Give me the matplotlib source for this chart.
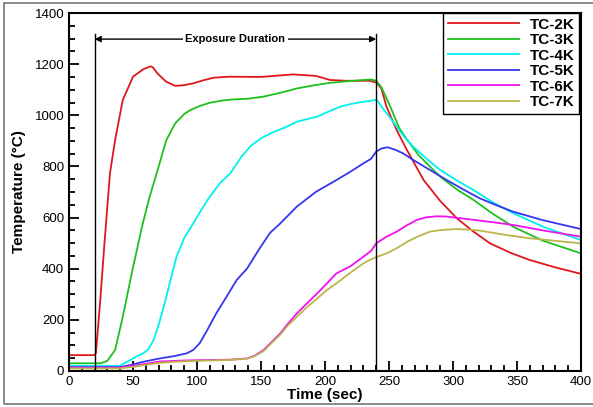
import matplotlib.pyplot as plt
from matplotlib.patches import Rectangle
from matplotlib.ticker import MultipleLocator

plt.rcParams['font.family'] = ['Liberation Sans', 'DejaVu Sans']

# thermocouple readings
t_2k = [0, 20, 21, 24, 28, 32, 36, 42, 50, 58, 64, 66, 69, 76, 83, 90, 97, 105, 113, 125,
        150, 175, 193, 204, 217, 235, 240, 244, 248, 256, 264, 277, 290, 303, 316, 329,
        345, 360, 380, 400]
T_2k = [62, 62, 70, 251, 520, 774, 903, 1060, 1151, 1180, 1192, 1185, 1164, 1131, 1115,
        1118, 1125, 1137, 1147, 1151, 1150, 1160, 1154, 1138, 1135, 1135, 1128, 1105, 1034,
        942, 864, 747, 665, 597, 545, 499, 462, 434, 405, 380]

t_3k = [0, 25, 30, 36, 42, 49, 57, 63, 70, 76, 83, 90, 95, 103, 110, 120, 128, 140, 152,
        165, 178, 191, 204, 217, 230, 236, 240, 244, 251, 258, 264, 273, 282, 290, 303,
        316, 331, 347, 370, 400]
T_3k = [30, 30, 40, 82, 212, 382, 564, 682, 799, 903, 969, 1005, 1021, 1038, 1049, 1058,
        1062, 1065, 1073, 1088, 1105, 1117, 1127, 1133, 1138, 1140, 1135, 1110, 1034, 950,
        905, 845, 799, 760, 710, 669, 615, 564, 510, 460]

t_4k = [0, 40, 45, 48, 53, 58, 62, 66, 70, 74, 79, 84, 90, 97, 104, 110, 118, 126, 135,
        142, 150, 160, 170, 178, 186, 194, 203, 212, 221, 230, 240, 242, 246, 251, 256,
        262, 269, 276, 282, 290, 303, 316, 331, 347, 370, 400]
T_4k = [20, 20, 35, 43, 58, 69, 85, 121, 180, 251, 350, 447, 520, 577, 635, 682, 735, 773,
        840, 880, 910, 935, 955, 975, 985, 995, 1015, 1034, 1045, 1053, 1060, 1050, 1021,
        990, 955, 915, 877, 845, 819, 786, 745, 708, 660, 617, 565, 512]

t_5k = [0, 40, 47, 53, 60, 71, 82, 92, 97, 102, 108, 115, 123, 131, 139, 149, 157, 165,
        178, 193, 209, 220, 230, 236, 240, 244, 249, 255, 261, 269, 282, 295, 308, 321,
        334, 347, 370, 400]
T_5k = [15, 15, 22, 30, 38, 49, 58, 69, 82, 108, 160, 225, 290, 356, 400, 480, 540, 577,
        643, 701, 747, 780, 812, 830, 858, 870, 875, 865, 851, 825, 786, 747, 710, 675,
        648, 623, 590, 555]

t_6k = [0, 40, 50, 60, 71, 90, 110, 125, 139, 145, 152, 158, 165, 171, 178, 186, 194, 201,
        209, 220, 230, 236, 240, 248, 256, 264, 272, 279, 287, 295, 308, 321, 334, 347,
        370, 400]
T_6k = [13, 13, 20, 28, 37, 41, 43, 44, 49, 60, 82, 112, 147, 185, 225, 265, 304, 340, 382,
        410, 447, 470, 499, 525, 545, 570, 591, 601, 605, 604, 596, 588, 580, 571, 550, 525]

t_7k = [0, 40, 50, 60, 71, 90, 110, 125, 139, 145, 152, 158, 165, 171, 178, 186, 194, 201,
        209, 220, 230, 236, 240, 248, 256, 264, 273, 282, 292, 303, 312, 321, 340, 360,
        380, 400]
T_7k = [10, 10, 16, 24, 32, 38, 41, 43, 48, 58, 78, 108, 142, 178, 212, 250, 284, 315, 343,
        385, 421, 437, 445, 460, 480, 505, 527, 545, 552, 555, 553, 549, 533, 519, 509, 499]

labels = ["TC-2K", "TC-3K", "TC-4K", "TC-5K", "TC-6K", "TC-7K"]
colors = ["#e0161c", "#1ec01e", "#00f0f0", "#3535f0", "#f010f0", "#bdb54a"]

exposure_start = 20
exposure_end = 240

fig = plt.figure(figsize=(5.93, 4.07), dpi=100)
ax = fig.add_axes([0.1164, 0.0885, 0.8634, 0.8795])

series = [(t_2k, T_2k), (t_3k, T_3k), (t_4k, T_4k), (t_5k, T_5k), (t_6k, T_6k), (t_7k, T_7k)]
for (t, T), lab, c in zip(series, labels, colors):
    ax.plot(t, T, color=c, lw=1.3, label=lab)

ax.set_xlim(0, 400)
ax.set_ylim(0, 1400)
ax.xaxis.set_major_locator(MultipleLocator(50))
ax.xaxis.set_minor_locator(MultipleLocator(10))
ax.yaxis.set_major_locator(MultipleLocator(200))
ax.yaxis.set_minor_locator(MultipleLocator(50))
ax.tick_params(which='both', direction='in', top=False, right=False, labelsize=9.5, width=1.3)
ax.tick_params(which='major', length=7)
ax.tick_params(which='minor', length=4)
for s in ax.spines.values():
    s.set_linewidth(1.5)

ax.set_xlabel("Time (sec)", fontsize=11, fontweight='bold', labelpad=0)
ax.set_ylabel("Temperature (\u00b0C)", fontsize=11, fontweight='bold', labelpad=6)

# exposure window markers
for x in (exposure_start, exposure_end):
    ax.plot([x, x], [0, 1318], color='black', lw=1)
ax.annotate("", xy=(exposure_start, 1298), xytext=(exposure_end, 1298),
            arrowprops=dict(arrowstyle='<|-|>', color='black', lw=1,
                            shrinkA=0, shrinkB=0, mutation_scale=9))
ax.text(130, 1298, "Exposure Duration", ha='center', va='center', fontsize=8,
        fontweight='bold', bbox=dict(facecolor='white', edgecolor='none', pad=2))

leg = ax.legend(loc='upper right', bbox_to_anchor=(0.997, 1.0), borderaxespad=0,
                fancybox=False, edgecolor='black', framealpha=1, handlelength=4.7,
                handletextpad=0.7, labelspacing=0.1, borderpad=0.3,
                prop={'weight': 'bold', 'size': 11})
leg.get_frame().set_linewidth(1)

fig.patches.append(Rectangle((4 / 593, 3 / 407), 1.0, 401 / 407, transform=fig.transFigure,
                             fill=False, edgecolor='#777777', lw=1.2))

fig.savefig("out.png", dpi=100)
